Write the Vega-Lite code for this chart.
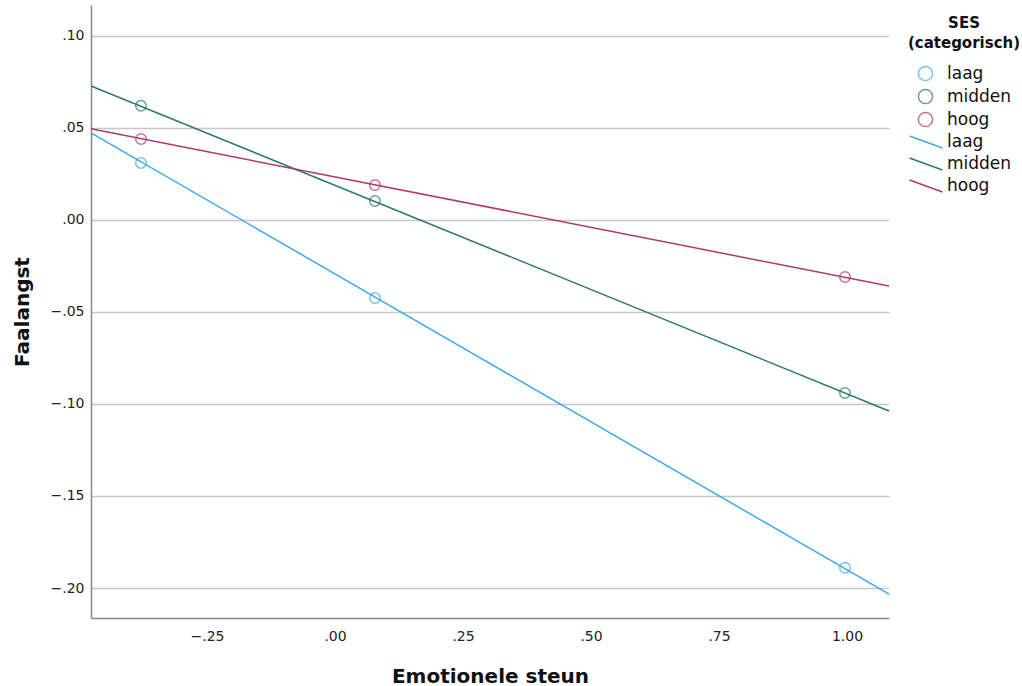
{
  "$schema": "https://vega.github.io/schema/vega-lite/v6.json",
  "width": 798,
  "height": 613,
  "autosize": {"type": "none"},
  "padding": {"left": 91, "top": 5, "right": 133, "bottom": 68},
  "background": "white",
  "config": {"view": {"stroke": null}, "font": "DejaVu Sans"},
  "datasets": {
    "points": [
      {"ses": "laag", "x": -0.379, "y": 0.031},
      {"ses": "laag", "x": 0.078, "y": -0.0424},
      {"ses": "laag", "x": 0.996, "y": -0.189},
      {"ses": "midden", "x": -0.379, "y": 0.062},
      {"ses": "midden", "x": 0.078, "y": 0.0103},
      {"ses": "midden", "x": 0.996, "y": -0.094},
      {"ses": "hoog", "x": -0.379, "y": 0.044},
      {"ses": "hoog", "x": 0.078, "y": 0.019},
      {"ses": "hoog", "x": 0.996, "y": -0.031}
    ],
    "lines": [
      {"groep": "laag", "x": -0.4766, "y": 0.0473},
      {"groep": "laag", "x": 1.082, "y": -0.2033},
      {"groep": "midden", "x": -0.4766, "y": 0.0728},
      {"groep": "midden", "x": 1.082, "y": -0.1038},
      {"groep": "hoog", "x": -0.4766, "y": 0.0495},
      {"groep": "hoog", "x": 1.082, "y": -0.0359}
    ]
  },
  "encoding": {
    "x": {
      "field": "x", "type": "quantitative",
      "scale": {"domain": [-0.4766, 1.082], "nice": false, "zero": false},
      "axis": {
        "values": [-0.25, 0, 0.25, 0.5, 0.75, 1],
        "labelExpr": "replace(format(datum.value, '.2f'), '0.', '.')",
        "grid": false, "ticks": false,
        "domainColor": "#888888", "domainWidth": 1.5,
        "labelFontSize": 14, "labelColor": "#222222", "labelPadding": 11,
        "title": "Emotionele steun", "titleFontSize": 20, "titleFontWeight": "bold",
        "titleColor": "#111111", "titlePadding": 23
      }
    },
    "y": {
      "field": "y", "type": "quantitative",
      "scale": {"domain": [-0.2163, 0.1168], "nice": false, "zero": false},
      "axis": {
        "values": [-0.2, -0.15, -0.1, -0.05, 0, 0.05, 0.1],
        "labelExpr": "replace(format(datum.value, '.2f'), '0.', '.')",
        "grid": true, "gridColor": "#c8c8c8", "gridWidth": 1.5,
        "ticks": false,
        "domainColor": "#888888", "domainWidth": 1.5,
        "labelFontSize": 14, "labelColor": "#222222", "labelPadding": 7,
        "title": "Faalangst", "titleFontSize": 20, "titleFontWeight": "bold",
        "titleColor": "#111111", "titlePadding": 18
      }
    }
  },
  "layer": [
    {
      "data": {"name": "lines"},
      "mark": {"type": "line", "strokeWidth": 1.5},
      "encoding": {
        "color": {
          "field": "groep", "type": "nominal",
          "sort": ["laag", "midden", "hoog"],
          "scale": {"range": ["#3fa9ee", "#2c7a6e", "#b23a6b"]},
          "legend": {
            "title": null, "orient": "none", "legendX": 826, "legendY": 128,
            "symbolType": "M-2,-0.72L2,0.72", "symbolSize": 272, "symbolStrokeWidth": 1.5,
            "labelFontSize": 17, "labelColor": "#111111", "labelOffset": 12, "rowPadding": 4
          }
        }
      }
    },
    {
      "data": {"name": "points"},
      "mark": {"type": "point", "shape": "circle", "filled": false, "size": 110, "strokeWidth": 1.5},
      "encoding": {
        "stroke": {
          "field": "ses", "type": "nominal",
          "sort": ["laag", "midden", "hoog"],
          "scale": {"range": ["#3fa9ee", "#2c7a6e", "#b23a6b"]},
          "legend": {
            "title": ["SES", "(categorisch)"], "orient": "none", "legendX": 817, "legendY": 11,
            "titleFontSize": 15, "titleFontWeight": "bold", "titleColor": "#111111",
            "titleAnchor": "middle", "titleLineHeight": 20, "titlePadding": 14,
            "symbolType": "circle", "symbolSize": 200, "symbolStrokeWidth": 1.5,
            "labelFontSize": 17, "labelColor": "#111111", "labelOffset": 13, "rowPadding": 2
          }
        }
      }
    }
  ]
}
